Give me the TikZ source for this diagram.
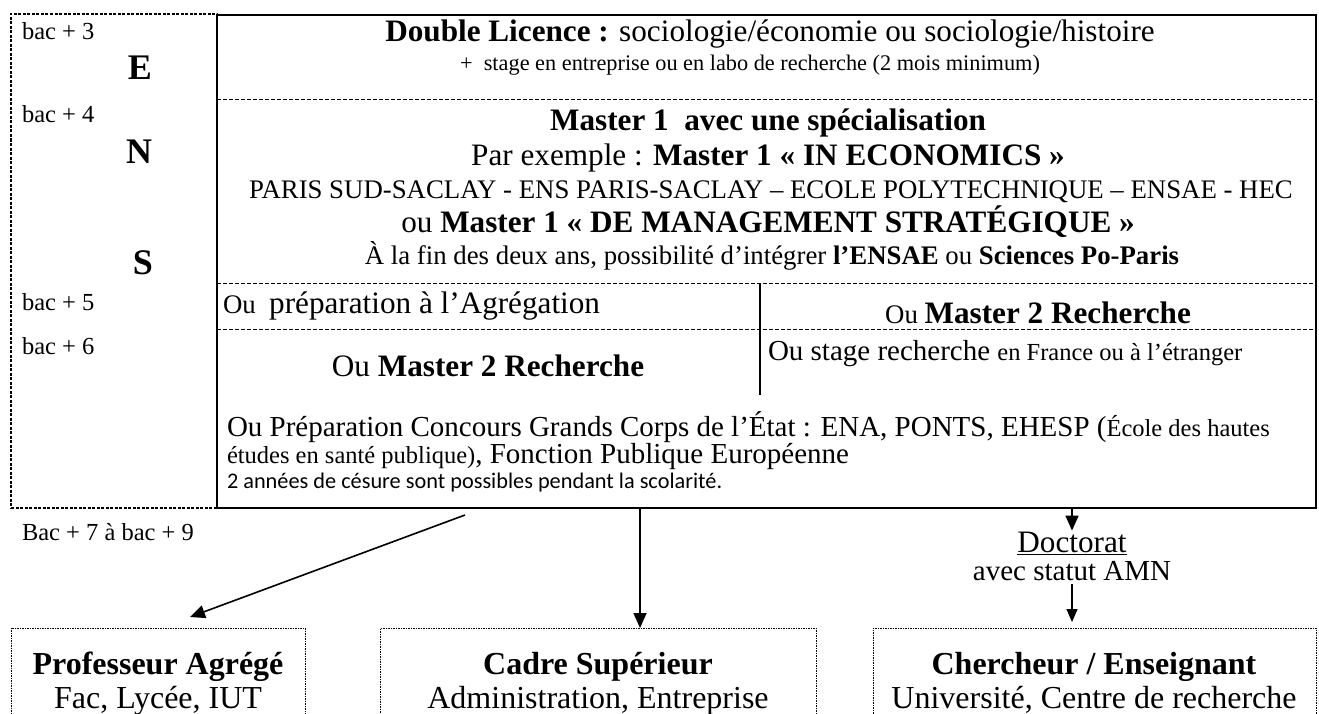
\documentclass[tikz,border=0pt]{standalone}
\usepackage{fontspec}
\setmainfont{Liberation Serif}
\newfontfamily\calibri{Carlito}
\usetikzlibrary{arrows.meta}
\newcommand\fA{\fontsize{31.2}{36}\selectfont}
\newcommand\fB{\fontsize{26.8}{31}\selectfont}
\newcommand\fC{\fontsize{24.5}{28}\selectfont}
\newcommand\fD{\fontsize{22.3}{26}\selectfont}
\newcommand\fE{\fontsize{29}{33}\selectfont}
\newcommand\fF{\fontsize{32}{36}\selectfont}
\newcommand\fG{\fontsize{36}{40}\selectfont}
\begin{document}
\begin{tikzpicture}[x=1pt,y=-1pt,
  txt/.style={inner sep=0pt, outer sep=0pt, anchor=base},
  txtl/.style={inner sep=0pt, outer sep=0pt, anchor=base west},
  frame/.style={draw, line width=2pt, inner sep=0pt, outer sep=0pt},
  rowline/.style={line width=0.9pt, dash pattern=on 4pt off 2pt},
  ensbox/.style={draw, line width=1.2pt, dash pattern=on 3pt off 1.5pt, inner sep=0pt, outer sep=0pt},
  outbox/.style={draw, line width=0.8pt, dash pattern=on 1.5pt off 1pt, inner sep=0pt, outer sep=0pt},
  arr/.style={line width=1.6pt, -{Triangle[length=15pt,width=13pt]}},
  sarr/.style={line width=1.4pt, -{Triangle[length=13pt,width=11pt]}},
]
\useasboundingbox (0,0) rectangle (1319,714);

% ENS column box
\node[ensbox, minimum width=206pt, minimum height=494pt, anchor=north west] (ens) at (11,14) {};
% main frame
\node[frame, minimum width=1099pt, minimum height=493pt, anchor=north west, fill=white] (main) at (217,15) {};

% row separators
\draw[rowline] (217,99) -- (1316,99);
\draw[rowline] (217,283) -- (1316,283);
\draw[rowline] (217,329) -- (1316,329);
\draw[line width=1.5pt] (760,283) -- (760,395);

% left labels
\node[txtl] (b3) at (22,40) {\fC bac + 3};
\node[txt] (lE) at (140,80) {\fG\bfseries E};
\node[txtl] (b4) at (22,123) {\fC bac + 4};
\node[txt] (lN) at (139,164) {\fG\bfseries N};
\node[txt] (lS) at (143,274) {\fG\bfseries S};
\node[txtl] (b5) at (22,310) {\fC bac + 5};
\node[txtl] (b6) at (22,354) {\fC bac + 6};
\node[txtl] (b7) at (22,540) {\fC Bac + 7 à bac + 9};

% licence
\node[txt] (dl) at (770,42) {\fA\textbf{Double Licence :} sociologie/économie ou sociologie/histoire};
\node[txt] (st) at (750,71) {\fD +\ \ stage en entreprise ou en labo de recherche (2 mois minimum)};

% master 1
\node[txt] (m1) at (768,131) {\fA\textbf{Master 1\ \ avec une spécialisation}};
\node[txt] (m2) at (768,166) {\fA Par exemple : \textbf{Master 1 « IN ECONOMICS »}};
\node[txt] (m3) at (771,198) {\fB PARIS SUD-SACLAY - ENS PARIS-SACLAY – ECOLE POLYTECHNIQUE – ENSAE - HEC};
\node[txt] (m4) at (768,232) {\fA ou \textbf{Master 1 « DE MANAGEMENT STRATÉGIQUE »}};
\node[txt] (m5) at (772,264) {\fB À la fin des deux ans, possibilité d’intégrer \textbf{l’ENSAE} ou \textbf{Sciences Po-Paris}};

% row bac+5/6
\node[txtl] (agr) at (223,313) {{\fB Ou\ \ }{\fA préparation à l’Agrégation}};
\node[txt] (m2r) at (1038,323) {{\fB Ou }{\fA\bfseries Master 2 Recherche}};
\node[txt] (m2l) at (488,376) {\fA Ou \textbf{Master 2 Recherche}};
\node[txtl] (sr) at (768,360) {{\fE Ou stage recherche }{\fC en France ou à l’étranger}};

% concours
\node[txtl] (c1) at (227,436) {\fE Ou Préparation Concours Grands Corps de l’État : ENA, PONTS, EHESP ({\fC École des hautes}};
\node[txtl] (c2) at (227,463) {{\fC études en santé publique)}{\fE , Fonction Publique Européenne}};
\node[txtl] (c3) at (227,488) {\calibri\fD 2 années de césure sont possibles pendant la scolarité.};

% doctorat
\node[txt] (doc) at (1072,552) {\fA\underline{Doctorat}};
\node[txt] (amn) at (1072,580) {\fE avec statut AMN};

% bottom boxes
\node[outbox, minimum width=294pt, minimum height=130pt, anchor=north west] (prof) at (11,628) {};
\node[outbox, minimum width=436pt, minimum height=130pt, anchor=north west] (cadre) at (380,628) {};
\node[outbox, minimum width=443pt, minimum height=130pt, anchor=north west] (cher) at (873,628) {};

\node[txt] (prof1) at (158,674) {\fF\bfseries Professeur Agrégé};
\node[txt] (prof2) at (158,708) {\fF Fac, Lycée, IUT};
\node[txt] (cad1) at (598,674) {\fF\bfseries Cadre Supérieur};
\node[txt] (cad2) at (598,708) {\fF Administration, Entreprise};
\node[txt] (ch1) at (1094,674) {\fF\bfseries Chercheur / Enseignant};
\node[txt] (ch2) at (1094,708) {\fF Université, Centre de recherche};

% arrows
\coordinate (s1) at (465,515);
\coordinate (t1) at (190,617);
\draw[arr] (s1) -- (t1);
\draw[arr] (main.south -| 640,0) -- (cadre.north -| 640,0);
\draw[arr] (main.south -| doc.north) -- ([yshift=1pt]doc.north);
\draw[sarr] ([yshift=-4pt]amn.south) -- ([yshift=6pt]cher.north -| amn.south);
\end{tikzpicture}
\end{document}
